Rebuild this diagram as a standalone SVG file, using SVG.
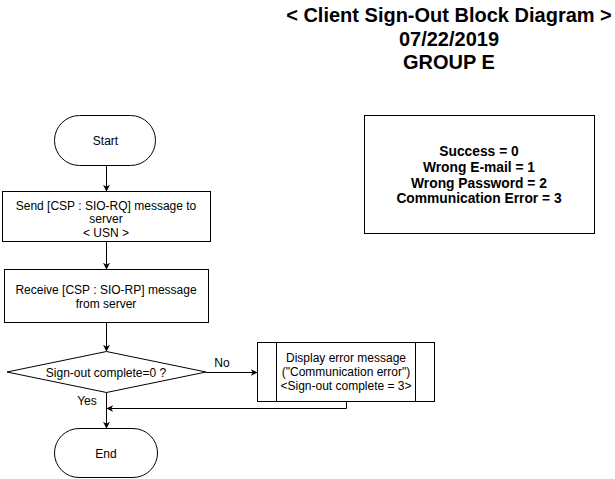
<svg xmlns="http://www.w3.org/2000/svg" width="615" height="479" viewBox="0 0 615 479">
<defs>
<marker id="arr" viewBox="0 0 10 10" refX="9" refY="5" markerWidth="7" markerHeight="7" orient="auto" markerUnits="userSpaceOnUse">
<path d="M0,0 L10,5 L0,10 L3,5 Z" fill="#000"/>
</marker>
<style>
.s{fill:#fff;stroke:#000;stroke-width:1}
.t{font-family:"Liberation Sans",Arial,sans-serif;font-size:12px;fill:#000;text-anchor:middle}
.b{font-family:"Liberation Sans",Arial,sans-serif;font-weight:bold;fill:#000;text-anchor:middle}
.c{fill:none;stroke:#000;stroke-width:1}
</style>
</defs>
<rect width="615" height="479" fill="#fff"/>
<g id="title">
<text class="b" font-size="20" x="449" y="22">&lt; Client Sign-Out Block Diagram &gt;</text>
<text class="b" font-size="20" x="449" y="45.5">07/22/2019</text>
<text class="b" font-size="20" x="449" y="69">GROUP E</text>
</g>
<g id="legend">
<rect class="s" x="364.5" y="115.5" width="230" height="118"/>
<text class="b" font-size="13.8" x="479" y="156">Success = 0</text>
<text class="b" font-size="13.8" x="479" y="171.5">Wrong E-mail = 1</text>
<text class="b" font-size="13.8" x="479" y="187.5">Wrong Password = 2</text>
<text class="b" font-size="13.8" x="479" y="203">Communication Error = 3</text>
</g>
<g id="start">
<rect class="s" x="54.5" y="115.5" width="101" height="50" rx="25" ry="25"/>
<text class="t" x="105.5" y="145">Start</text>
</g>
<g id="send">
<rect class="s" x="2.5" y="191.5" width="208" height="50"/>
<text class="t" x="106" y="209.5">Send [CSP : SIO-RQ] message to</text>
<text class="t" x="106" y="223">server</text>
<text class="t" x="106" y="237">&lt; USN &gt;</text>
</g>
<g id="receive">
<rect class="s" x="4.5" y="269.5" width="204" height="53"/>
<text class="t" x="106" y="293.5">Receive [CSP : SIO-RP] message</text>
<text class="t" x="106" y="307.5">from server</text>
</g>
<g id="decision">
<polygon class="s" points="106.5,351.5 206,372 106.5,392.5 7,372"/>
<text class="t" x="106" y="376.5">Sign-out complete=0 ?</text>
</g>
<g id="error">
<rect class="s" x="257.5" y="342.5" width="177" height="59"/>
<line class="c" x1="276.5" y1="342.5" x2="276.5" y2="401.5"/>
<line class="c" x1="415.5" y1="342.5" x2="415.5" y2="401.5"/>
<text class="t" x="346" y="361.5">Display error message</text>
<text class="t" x="346" y="375.5">("Communication error")</text>
<text class="t" x="346" y="389.5">&lt;Sign-out complete = 3&gt;</text>
</g>
<g id="end">
<rect class="s" x="54.5" y="428.5" width="103" height="49" rx="24.5" ry="24.5"/>
<text class="t" x="106" y="457.5">End</text>
</g>
<g id="connectors">
<line class="c" x1="106.5" y1="165.5" x2="106.5" y2="191" marker-end="url(#arr)"/>
<line class="c" x1="106.5" y1="241.5" x2="106.5" y2="269" marker-end="url(#arr)"/>
<line class="c" x1="106.5" y1="322.5" x2="106.5" y2="351" marker-end="url(#arr)"/>
<line class="c" x1="206" y1="372.5" x2="257" y2="372.5" marker-end="url(#arr)"/>
<line class="c" x1="106.5" y1="392.5" x2="106.5" y2="428" marker-end="url(#arr)"/>
<polyline class="c" points="346.5,401.5 346.5,408.5 107,408.5" marker-end="url(#arr)"/>
<text class="t" x="222" y="367">No</text>
<text class="t" x="87" y="404.5">Yes</text>
</g>
</svg>
